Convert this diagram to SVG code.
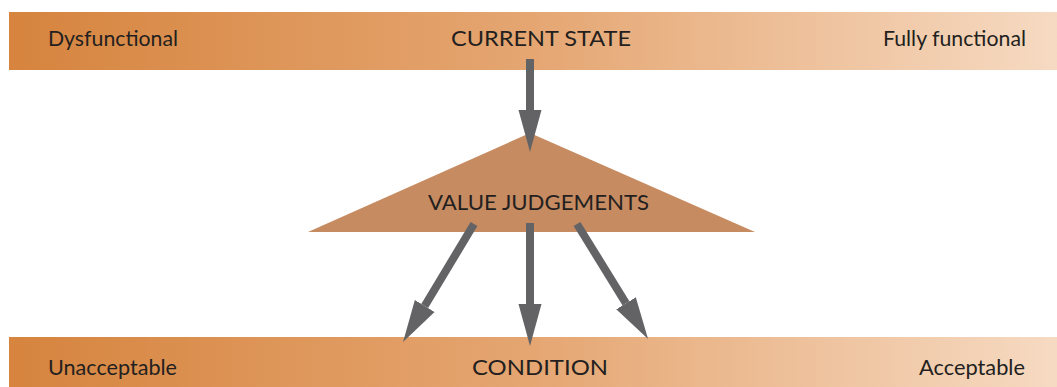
<svg xmlns="http://www.w3.org/2000/svg" width="1057" height="387" viewBox="0 0 1057 387">
<defs>
<linearGradient id="bar" x1="0" y1="0" x2="1" y2="0">
<stop offset="0" stop-color="#D6843E"/>
<stop offset="0.5" stop-color="#E5A672"/>
<stop offset="1" stop-color="#F6DAC2"/>
</linearGradient>
<marker id="ah" markerUnits="userSpaceOnUse" markerWidth="44" markerHeight="24" viewBox="0 -12 44 24" refX="0" refY="0" orient="auto">
<path d="M0,-11.5 L42,0 L0,11.5 Z" fill="#636366"/>
</marker>
</defs>
<style>
text{font-family:"Lato","Open Sans",sans-serif;font-size:22px;fill:#231f20}
.c{stroke:#636366;stroke-width:8;fill:none;marker-end:url(#ah)}
</style>
<g id="current-state">
<rect x="9" y="12" width="1048" height="58" fill="url(#bar)"/>
<text x="48" y="46" textLength="130" lengthAdjust="spacingAndGlyphs">Dysfunctional</text>
<text x="451" y="46" textLength="180" lengthAdjust="spacingAndGlyphs">CURRENT STATE</text>
<text x="883" y="46" textLength="143" lengthAdjust="spacingAndGlyphs">Fully functional</text>
</g>
<g id="value-judgements">
<polygon points="530,133 755,232 308,232" fill="#C68B60"/>
<text x="428" y="210" textLength="221" lengthAdjust="spacingAndGlyphs">VALUE JUDGEMENTS</text>
</g>
<g id="condition">
<rect x="9" y="337" width="1048" height="50" fill="url(#bar)"/>
<text x="48" y="375" textLength="129" lengthAdjust="spacingAndGlyphs">Unacceptable</text>
<text x="472" y="375" textLength="136" lengthAdjust="spacingAndGlyphs">CONDITION</text>
<text x="919" y="375" textLength="106" lengthAdjust="spacingAndGlyphs">Acceptable</text>
</g>
<g id="connectors">
<line class="c" x1="530" y1="59" x2="530" y2="110"/>
<line class="c" x1="530" y1="223" x2="530" y2="304"/>
<line class="c" x1="474" y1="224" x2="424.7" y2="306"/>
<line class="c" x1="577" y1="224" x2="626" y2="303.3"/>
</g>
</svg>
